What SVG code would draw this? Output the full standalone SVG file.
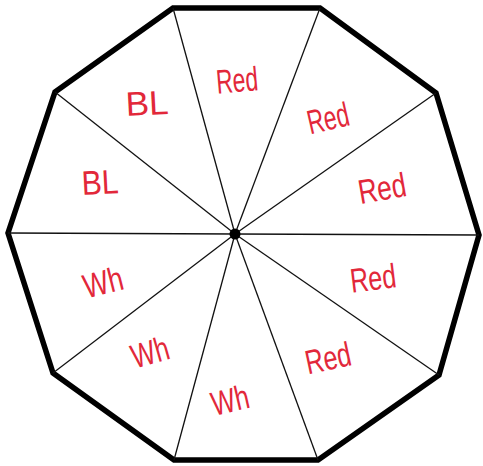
<svg xmlns="http://www.w3.org/2000/svg" width="483" height="466" viewBox="0 0 483 466">
<style>
.rim{fill:#fff;stroke:#000;stroke-width:5.5;stroke-linejoin:miter}
.spoke{stroke:#111;stroke-width:1.3;fill:none}
.lbl{font-family:"Liberation Sans",Arial,sans-serif;font-size:34px;fill:#e2283a;text-anchor:middle}
</style>
<rect width="483" height="466" fill="#fff"/>
<g id="decagon">
<polygon class="rim" points="173,8 320,8 436,93 479,235 439,375 318,460 174,460 53,373 8,233 55,92"/>
</g>
<g id="spokes">
<line class="spoke" x1="235" y1="234" x2="173" y2="8"/>
<line class="spoke" x1="235" y1="234" x2="320" y2="8"/>
<line class="spoke" x1="235" y1="234" x2="436" y2="93"/>
<line class="spoke" x1="235" y1="234" x2="479" y2="235"/>
<line class="spoke" x1="235" y1="234" x2="439" y2="375"/>
<line class="spoke" x1="235" y1="234" x2="318" y2="460"/>
<line class="spoke" x1="235" y1="234" x2="174" y2="460"/>
<line class="spoke" x1="235" y1="234" x2="53" y2="373"/>
<line class="spoke" x1="235" y1="234" x2="8" y2="233"/>
<line class="spoke" x1="235" y1="234" x2="55" y2="92"/>
<circle cx="235" cy="234" r="5.5" fill="#000"/>
</g>
<g id="labels">
<g id="s1"><text class="lbl" x="237" y="92" textLength="42" lengthAdjust="spacingAndGlyphs" transform="rotate(-5 237 80)">Red</text></g>
<g id="s2"><text class="lbl" x="328" y="130" textLength="42" lengthAdjust="spacingAndGlyphs" transform="rotate(-13 328 118)">Red</text></g>
<g id="s3"><text class="lbl" x="382" y="200" textLength="48" lengthAdjust="spacingAndGlyphs" transform="rotate(-10 382 188)">Red</text></g>
<g id="s4"><text class="lbl" x="373" y="290" textLength="46" lengthAdjust="spacingAndGlyphs" transform="rotate(-7 373 278)">Red</text></g>
<g id="s5"><text class="lbl" x="328" y="370" textLength="46" lengthAdjust="spacingAndGlyphs" transform="rotate(-12 328 358)">Red</text></g>
<g id="s6"><text class="lbl" x="230" y="412" textLength="38" lengthAdjust="spacingAndGlyphs" transform="rotate(-13 230 400)">Wh</text></g>
<g id="s7"><text class="lbl" x="150" y="364" textLength="38" lengthAdjust="spacingAndGlyphs" transform="rotate(-16 150 352)">Wh</text></g>
<g id="s8"><text class="lbl" x="103" y="294" textLength="40" lengthAdjust="spacingAndGlyphs" transform="rotate(-14 103 282)">Wh</text></g>
<g id="s9"><text class="lbl" x="100" y="194" textLength="37" lengthAdjust="spacingAndGlyphs" transform="rotate(-3 100 182)">BL</text></g>
<g id="s10"><text class="lbl" x="147" y="115" textLength="43" lengthAdjust="spacingAndGlyphs" transform="rotate(-3 147 103)">BL</text></g>
</g>
</svg>
